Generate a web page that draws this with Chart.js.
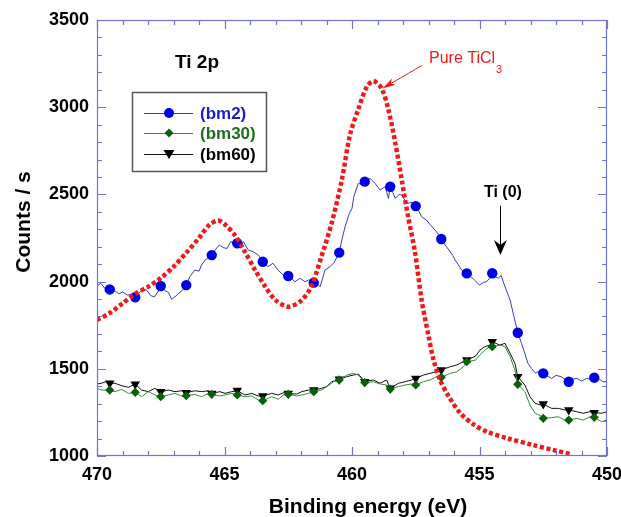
<!DOCTYPE html>
<html><head><meta charset="utf-8">
<script src="https://cdn.jsdelivr.net/npm/chart.js@4.4.1/dist/chart.umd.min.js"></script>
<style>html,body{margin:0;padding:0;background:#fff;}</style>
</head><body>
<canvas id="c" width="621" height="517"></canvas>
<script>
// ---- data ----
const xTicks = [470, 465, 460, 455, 450];
const yTicks = [1000, 1500, 2000, 2500, 3000, 3500];
const seriesNames = ['(bm2)', '(bm30)', '(bm60)'];

const bm2Energy = [
 470.0,469.85,469.7,469.5,469.3,469.15,469.0,468.8,468.65,468.5,
 468.35,468.2,468.05,467.9,467.75,467.6,467.5,467.35,467.2,467.07,
 466.9,466.8,466.65,466.5,466.35,466.16,466.0,465.9,465.76,465.6,
 465.5,465.35,465.2,465.05,464.9,464.75,464.6,464.5,464.4,464.26,
 464.07,463.87,463.67,463.5,463.3,463.1,462.9,462.7,462.5,462.35,
 462.24,462.04,461.84,461.7,461.5,461.35,461.25,461.15,461.06,460.86,
 460.7,460.5,460.38,460.27,460.1,460.0,459.93,459.75,459.6,459.5,
 459.29,459.1,458.9,458.7,458.57,458.5,458.4,458.3,458.15,458.05,
 457.9,457.8,457.65,457.5,457.4,457.27,457.08,456.95,456.75,456.6,
 456.5,456.35,456.2,456.05,455.96,455.8,455.7,455.5,455.35,455.2,
 455.1,455.0,454.85,454.72,454.6,454.5,454.4,454.26,454.15,454.07,
 453.8,453.65,453.5,453.35,453.1,452.95,452.8,452.65,452.5,452.35,
 452.17,452.0,451.8,451.65,451.5,451.35,451.18,451.0,450.8,450.65,
 450.5,450.3,450.15,450.0];
const bm2Counts = [
 1975,1990,1962,1955,1948,1930,1940,1922,1928,1910,
 1935,1958,1950,1920,1912,1945,1975,1950,1938,1898,
 1918,1933,1950,1980,2030,2066,2060,2095,2124,2140,
 2152,2185,2210,2195,2190,2230,2215,2220,2200,2229,
 2181,2171,2152,2114,2086,2105,2066,2038,2032,2015,
 1999,2019,1999,2010,1994,1985,1971,2020,2066,2086,
 2110,2166,2250,2315,2392,2420,2487,2564,2555,2573,
 2592,2564,2525,2544,2477,2544,2510,2477,2500,2496,
 2460,2449,2455,2433,2410,2372,2353,2330,2296,2270,
 2244,2210,2181,2150,2124,2090,2066,2047,2030,2009,
 1995,1980,1995,1999,2020,2048,2030,2019,2035,1999,
 1894,1800,1707,1646,1531,1500,1474,1490,1474,1460,
 1445,1462,1455,1440,1426,1440,1445,1430,1445,1440,
 1449,1440,1425,1426];

const lowEnergy = [
 470.0,469.82,469.66,469.5,469.3,469.03,468.77,468.5,468.25,467.99,
 467.73,467.5,467.2,466.94,466.68,466.5,466.16,465.9,465.64,465.5,
 465.18,464.98,464.72,464.5,464.2,463.93,463.67,463.5,463.15,462.89,
 462.69,462.5,462.17,461.97,461.71,461.5,461.19,460.99,460.8,460.6,
 460.5,460.21,459.95,459.75,459.5,459.16,458.9,458.64,458.5,458.18,
 457.92,457.66,457.5,457.2,456.94,456.68,456.5,456.15,455.89,455.63,
 455.5,455.15,454.98,454.78,454.6,454.5,454.2,454.0,453.8,453.61,
 453.5,453.22,453.02,452.82,452.6,452.5,452.17,451.91,451.65,451.5,
 451.19,450.93,450.67,450.5,450.21,450.0];
const bm30Counts = [
 1388,1378,1378,1378,1369,1382,1359,1365,1340,1369,
 1350,1340,1350,1359,1344,1346,1353,1340,1359,1354,
 1344,1350,1359,1350,1340,1344,1321,1317,1340,1325,
 1350,1354,1344,1350,1359,1369,1378,1398,1417,1440,
 1436,1464,1474,1464,1421,1426,1413,1407,1384,1398,
 1407,1413,1407,1426,1436,1455,1451,1474,1483,1512,
 1541,1550,1580,1608,1627,1627,1636,1627,1570,1493,
 1411,1369,1292,1245,1230,1216,1220,1225,1206,1206,
 1216,1206,1225,1222,1197,1206];
const bm60Counts = [
 1413,1417,1426,1417,1417,1403,1394,1412,1378,1369,
 1388,1369,1378,1369,1374,1363,1374,1369,1374,1359,
 1369,1359,1369,1375,1350,1359,1344,1344,1359,1350,
 1363,1359,1355,1369,1378,1378,1388,1398,1426,1432,
 1440,1455,1464,1470,1426,1436,1417,1436,1388,1417,
 1426,1436,1445,1464,1474,1483,1493,1512,1522,1541,
 1550,1573,1608,1627,1636,1655,1636,1646,1589,1531,
 1455,1407,1340,1302,1292,1298,1273,1273,1264,1264,
 1254,1245,1254,1248,1245,1254];

const ticl3Energy = [
 470,469.5,469,468.5,468,467.5,467,466.5,466,465.6,
 465.25,465,464.6,464.2,463.8,463.4,463,462.5,462,461.6,
 461.2,460.8,460.4,460.08,459.75,459.42,459.16,458.84,458.57,458.3,
 458.05,457.8,457.53,457.27,457,456.8,456.55,456.2,455.75,455.2,
 454.7,453.9,452.9,452.1,451.4];
const ticl3Counts = [
 1780,1820,1875,1930,1970,2020,2085,2165,2250,2325,
 2350,2330,2267,2171,2066,1971,1894,1856,1890,1971,
 2143,2334,2583,2840,2990,3117,3150,3108,2984,2793,
 2583,2372,2170,1894,1690,1550,1436,1340,1245,1178,
 1139,1101,1063,1034,1010];

// ---- helpers ----
const FONT = 'Arial, "Liberation Sans", Helvetica, sans-serif';
const AXIS = '#7272d6';
const pts = (xs, ys) => xs.map((x, i) => ({x, y: ys[i]}));
const isMarker = v => Math.abs(v - Math.floor(v) - 0.5) < 1e-6;
const markerR = r => ctx => (ctx.raw && isMarker(ctx.raw.x)) ? r : 0;

const COLORS = {
  bm2: {line: '#3838cc', mark: '#0000e6', text: '#1c1cc8'},
  bm30: {line: '#3a8a3a', mark: '#0a5f0a', text: '#1f6e1f'},
  bm60: {line: '#111111', mark: '#000000', text: '#000000'}
};

function drawMarker(ctx, style, x, y, color) {
  ctx.fillStyle = color;
  ctx.beginPath();
  if (style === 'circle') { ctx.arc(x, y, 5, 0, Math.PI * 2); }
  else if (style === 'diamond') { ctx.moveTo(x, y - 4.5); ctx.lineTo(x + 4.5, y); ctx.lineTo(x, y + 4.5); ctx.lineTo(x - 4.5, y); ctx.closePath(); }
  else { ctx.moveTo(x - 5.5, y - 4); ctx.lineTo(x + 5.5, y - 4); ctx.lineTo(x, y + 5); ctx.closePath(); }
  ctx.fill();
}

const decor = {
  id: 'decor',
  afterDatasetsDraw(chart) {
    const {ctx, chartArea: a, scales: {x, y}} = chart;
    ctx.save();
    // frame
    ctx.strokeStyle = AXIS; ctx.lineWidth = 1.2;
    ctx.strokeRect(a.left + 0.5, a.top + 0.5, a.right - a.left - 1, a.bottom - a.top - 1);
    ctx.beginPath();
    for (let e = 450; e <= 470; e++) {
      const px = Math.round(x.getPixelForValue(e)) + 0.5;
      const len = e % 5 === 0 ? 9 : 5;
      ctx.moveTo(px, a.bottom); ctx.lineTo(px, a.bottom - len);
      ctx.moveTo(px, a.top); ctx.lineTo(px, a.top + len);
    }
    for (let v = 1000; v <= 3500; v += 100) {
      const py = Math.round(y.getPixelForValue(v)) + 0.5;
      const len = v % 500 === 0 ? 9 : 5;
      ctx.moveTo(a.left, py); ctx.lineTo(a.left + len, py);
      ctx.moveTo(a.right, py); ctx.lineTo(a.right - len, py);
    }
    ctx.stroke();

    // Ti 2p label
    ctx.fillStyle = '#000';
    ctx.font = 'bold 19px ' + FONT;
    ctx.textAlign = 'left'; ctx.textBaseline = 'alphabetic';
    ctx.fillText('Ti 2p', 175, 68);

    // legend
    ctx.strokeStyle = '#555'; ctx.lineWidth = 1.5;
    ctx.strokeRect(132.5, 92.5, 134, 79);
    const keys = ['bm2', 'bm30', 'bm60'];
    const styles = ['circle', 'diamond', 'tri'];
    const ly = [113, 133, 154];
    ctx.font = 'bold 17px ' + FONT;
    keys.forEach((k, i) => {
      ctx.strokeStyle = COLORS[k].line; ctx.lineWidth = 1;
      ctx.beginPath(); ctx.moveTo(144, ly[i] + 0.5); ctx.lineTo(193, ly[i] + 0.5); ctx.stroke();
      drawMarker(ctx, styles[i], 169, ly[i], COLORS[k].mark);
      ctx.fillStyle = COLORS[k].text;
      ctx.textBaseline = 'middle';
      ctx.fillText(seriesNames[i], 200, ly[i] + 1);
    });

    // Pure TiCl3 annotation
    const red = '#f01818';
    ctx.fillStyle = red; ctx.strokeStyle = red; ctx.lineWidth = 1;
    ctx.textBaseline = 'alphabetic';
    ctx.font = '16px ' + FONT;
    const tx = x.getPixelForValue(456.98), ty = y.getPixelForValue(3253);
    ctx.fillText('Pure TiCl', tx, ty);
    const w = ctx.measureText('Pure TiCl').width;
    ctx.font = '11px ' + FONT;
    ctx.fillText('3', tx + w + 1, ty + 10);
    const ax0 = x.getPixelForValue(457.25), ay0 = y.getPixelForValue(3240);
    const ax1 = x.getPixelForValue(458.78), ay1 = y.getPixelForValue(3110);
    ctx.beginPath(); ctx.moveTo(ax0, ay0); ctx.lineTo(ax1, ay1); ctx.stroke();
    let ang = Math.atan2(ay1 - ay0, ax1 - ax0);
    ctx.beginPath();
    ctx.moveTo(ax1, ay1);
    ctx.lineTo(ax1 - 13 * Math.cos(ang - 0.3), ay1 - 13 * Math.sin(ang - 0.3));
    ctx.lineTo(ax1 - 9 * Math.cos(ang), ay1 - 9 * Math.sin(ang));
    ctx.lineTo(ax1 - 13 * Math.cos(ang + 0.3), ay1 - 13 * Math.sin(ang + 0.3));
    ctx.closePath(); ctx.fill();

    // Ti (0) annotation
    ctx.fillStyle = '#000'; ctx.strokeStyle = '#000';
    ctx.font = 'bold 16px ' + FONT;
    ctx.textAlign = 'center';
    const bx = x.getPixelForValue(454.2);
    ctx.fillText('Ti (0)', bx + 3, y.getPixelForValue(2485));
    const by0 = y.getPixelForValue(2435), by1 = y.getPixelForValue(2152);
    ctx.beginPath(); ctx.moveTo(Math.round(bx) + 0.5, by0); ctx.lineTo(Math.round(bx) + 0.5, by1 - 6); ctx.stroke();
    ctx.beginPath();
    ctx.moveTo(bx + 0.5, by1);
    ctx.lineTo(bx - 6, by1 - 15);
    ctx.lineTo(bx + 0.5, by1 - 10);
    ctx.lineTo(bx + 7, by1 - 15);
    ctx.closePath(); ctx.fill();

    // axis titles
    ctx.font = 'bold 21px ' + FONT;
    ctx.textAlign = 'center'; ctx.textBaseline = 'alphabetic';
    ctx.fillText('Binding energy (eV)', 368, 513);
    ctx.save();
    ctx.translate(30, 222); ctx.rotate(-Math.PI / 2);
    ctx.fillText('Counts / s', 0, 0);
    ctx.restore();
    ctx.restore();
  }
};

const tickFont = {family: FONT, size: 18, weight: 'bold'};

new Chart(document.getElementById('c'), {
  type: 'line',
  data: {
    datasets: [
      {label: 'Pure TiCl3', data: pts(ticl3Energy, ticl3Counts), borderColor: '#f01818',
       borderWidth: 4.5, borderDash: [4, 2.6], borderCapStyle: 'butt', pointRadius: 0,
       tension: 0.3, fill: false},
      {label: seriesNames[0], data: pts(bm2Energy, bm2Counts), borderColor: COLORS.bm2.line,
       borderWidth: 1, pointRadius: markerR(5.2), pointStyle: 'circle',
       pointBackgroundColor: COLORS.bm2.mark, pointBorderColor: COLORS.bm2.mark, pointBorderWidth: 0, tension: 0},
      {label: seriesNames[1], data: pts(lowEnergy, bm30Counts), borderColor: COLORS.bm30.line,
       borderWidth: 1, pointRadius: markerR(4.6), pointStyle: 'rectRot',
       pointBackgroundColor: COLORS.bm30.mark, pointBorderColor: COLORS.bm30.mark, pointBorderWidth: 0, tension: 0},
      {label: seriesNames[2], data: pts(lowEnergy, bm60Counts), borderColor: COLORS.bm60.line,
       borderWidth: 1, pointRadius: markerR(5.5), pointStyle: 'triangle', pointRotation: 180,
       pointBackgroundColor: COLORS.bm60.mark, pointBorderColor: COLORS.bm60.mark, pointBorderWidth: 0, tension: 0}
    ]
  },
  options: {
    responsive: false, animation: false, devicePixelRatio: 1,
    layout: {padding: {left: 0, right: 14, top: 20, bottom: 0}},
    plugins: {legend: {display: false}, tooltip: {enabled: false}},
    scales: {
      x: {type: 'linear', reverse: true, min: 450, max: 470,
          afterBuildTicks: s => { s.ticks = xTicks.map(v => ({value: v})); },
          afterFit: s => { s.height = 61; s.paddingLeft = 0; s.paddingRight = 0; },
          grid: {display: false, drawTicks: false}, border: {display: false},
          ticks: {font: tickFont, color: '#000', padding: 8, maxRotation: 0, autoSkip: false,
                  callback: v => String(v)}},
      y: {type: 'linear', min: 1000, max: 3500,
          afterBuildTicks: s => { s.ticks = yTicks.map(v => ({value: v})); },
          afterFit: s => { s.width = 97; s.paddingTop = 0; s.paddingBottom = 0; },
          grid: {display: false, drawTicks: false}, border: {display: false},
          ticks: {font: tickFont, color: '#000', padding: 8, autoSkip: false,
                  callback: v => String(v)}}
    }
  },
  plugins: [decor]
});
</script>
</body></html>
